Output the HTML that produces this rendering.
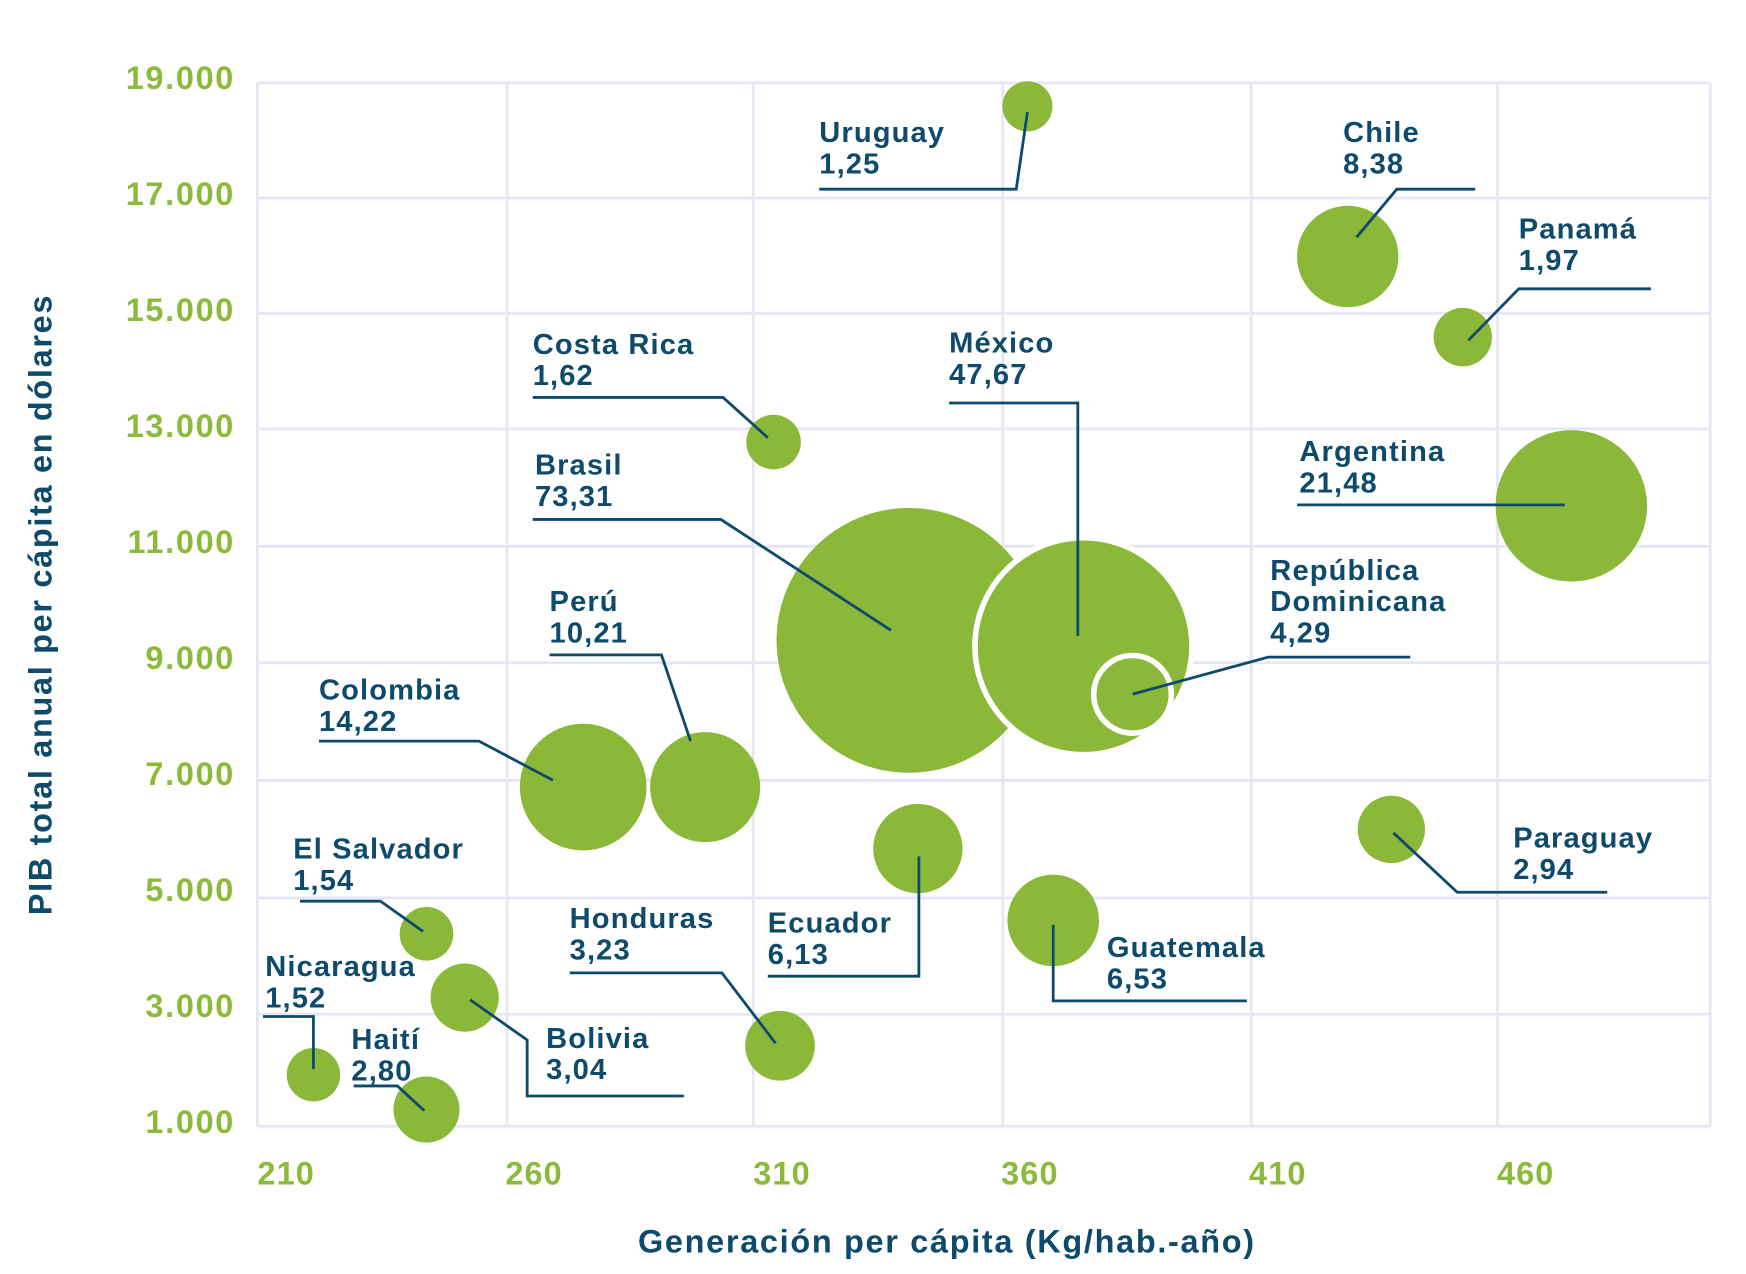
<!DOCTYPE html>
<html><head><meta charset="utf-8"><style>
html,body{margin:0;padding:0;background:#fff;width:1746px;height:1274px;overflow:hidden}
svg{display:block}
text{font-family:"Liberation Sans",sans-serif;font-weight:bold}
</style></head><body>
<svg id="chart" width="1746" height="1274" viewBox="0 0 1560 1138" preserveAspectRatio="none" xmlns="http://www.w3.org/2000/svg">
<g id="grid"></g>
<g id="bubbles"></g>
<g id="notes"></g>
<g id="axes"></g>
<text x="846" y="1119" text-anchor="middle" font-size="29" letter-spacing="1.5" fill="#0d4a6b">Generación per cápita  (Kg/hab.-año)</text>
<text transform="translate(46,540) rotate(-90)" text-anchor="middle" font-size="29" letter-spacing="1.5" fill="#0d4a6b">PIB total anual per cápita en dólares</text>
</svg>
<script>
const countries=["Uruguay","Chile","Panamá","Costa Rica","Argentina","Brasil","México","República Dominicana","Colombia","Perú","Ecuador","Paraguay","Guatemala","El Salvador","Bolivia","Honduras","Nicaragua","Haití"];
const gen=[365.3,429.9,453.1,314.1,475,341.4,376.6,386.5,275.7,300.3,343.2,438.7,370.5,244.1,251.8,315.4,221.3,244.1];
const pib=[18530,15940,14550,12740,11640,9320,9220,8390,6790,6790,5730,6060,4490,4260,3160,2330,1830,1230];
const sizes=["1,25","8,38","1,97","1,62","21,48","73,31","47,67","4,29","14,22","10,21","6,13","2,94","6,53","1,54","3,04","3,23","1,52","2,80"];
const xTicks=[210,260,310,360,410,460];
const yTicks=[1000,3000,5000,7000,9000,11000,13000,15000,17000,19000];

const NS="http://www.w3.org/2000/svg";
const X=v=>230+(v-210)*4.43;
const Y=v=>1003-(v-1000)*0.0518;
const R=s=>{const v=parseFloat(s.replace(',','.'));return 8+14*Math.sqrt(v)*0.92;};
function mk(tag,attrs,parent){const e=document.createElementNS(NS,tag);for(const k in attrs)e.setAttribute(k,attrs[k]);parent.appendChild(e);return e;}
const grid=document.getElementById('grid'),axes=document.getElementById('axes'),bub=document.getElementById('bubbles'),notes=document.getElementById('notes');
const gl=[74,177,280,383,488,592,697,802,906,1006];
gl.forEach(y=>{const l=mk('line',{x1:230,x2:1528,y1:y,y2:y,stroke:'#e6e6f5','stroke-width':2.5},grid);

});
[230,453,673,896,1118,1338,1528].forEach(x=>{const l=mk('line',{x1:x,x2:x,y1:74,y2:1006,stroke:'#e6e6f5','stroke-width':2.5},grid);

});
xTicks.forEach(t=>{const e=mk('text',{x:X(t),y:1058,'font-size':29,'letter-spacing':1,fill:'#8cba3a'},axes);e.textContent=t;

});
yTicks.forEach(t=>{const e=mk('text',{x:210,y:Y(t)+9,'font-size':29,'letter-spacing':1.5,fill:'#8cba3a','text-anchor':'end'},axes);e.textContent=(t/1000).toFixed(3);

});
countries.forEach((c,i)=>{const white=(c==="México"||c.startsWith("Rep"));
const e=mk('circle',{cx:X(gen[i]),cy:Y(pib[i]),r:R(sizes[i]),fill:'#8cb83a',stroke:white?'#fff':'none','stroke-width':white?5:0},bub);

});
const labelLayout=[
[732,127,"732,169 908,169 918,100"],
[1200,127,"1318,169 1248,169 1212,212"],
[1357,213,"1475,258 1357,258 1312,304"],
[476,316,"476,355 646,355 686,391"],
[1161,412,"1159,451 1398,451"],
[478,424,"476,464 644,464 796,563"],
[848,315,"848,360 963,360 963,568"],
[1135,518,"1260,587 1133,587 1012,620"],
[285,625,"285,662 428,662 494,697"],
[491,546,"491,585 591,585 617,662"],
[686,833,"686,872 821,872 821,765"],
[1352,757,"1436,797 1302,797 1245,744"],
[989,855,"1114,894 941,894 941,826"],
[262,767,"268,805 340,805 378,832"],
[488,936,"611,979 471,979 471,929 420,893"],
[509,829,"509,869 645,869 693,932"],
[237,872,"235,908 280,908 280,955"],
[314,937,"316,970 355,970 379,992"]];
countries.forEach((c,i)=>{const [lx,ly,pts]=labelLayout[i];
const lines=c.startsWith("Rep")?["República","Dominicana",sizes[i]]:[c,sizes[i]];
const t=mk('text',{x:lx,y:ly,'font-size':26,'letter-spacing':1,fill:'#0d4a6b'},notes);


lines.forEach((s,j)=>{const ts=mk('tspan',{x:lx,y:ly+j*28},t);ts.textContent=s;});
const p=mk('polyline',{points:pts,fill:'none',stroke:'#0d4a6b','stroke-width':2.5},notes);

});
</script>
</body></html>
